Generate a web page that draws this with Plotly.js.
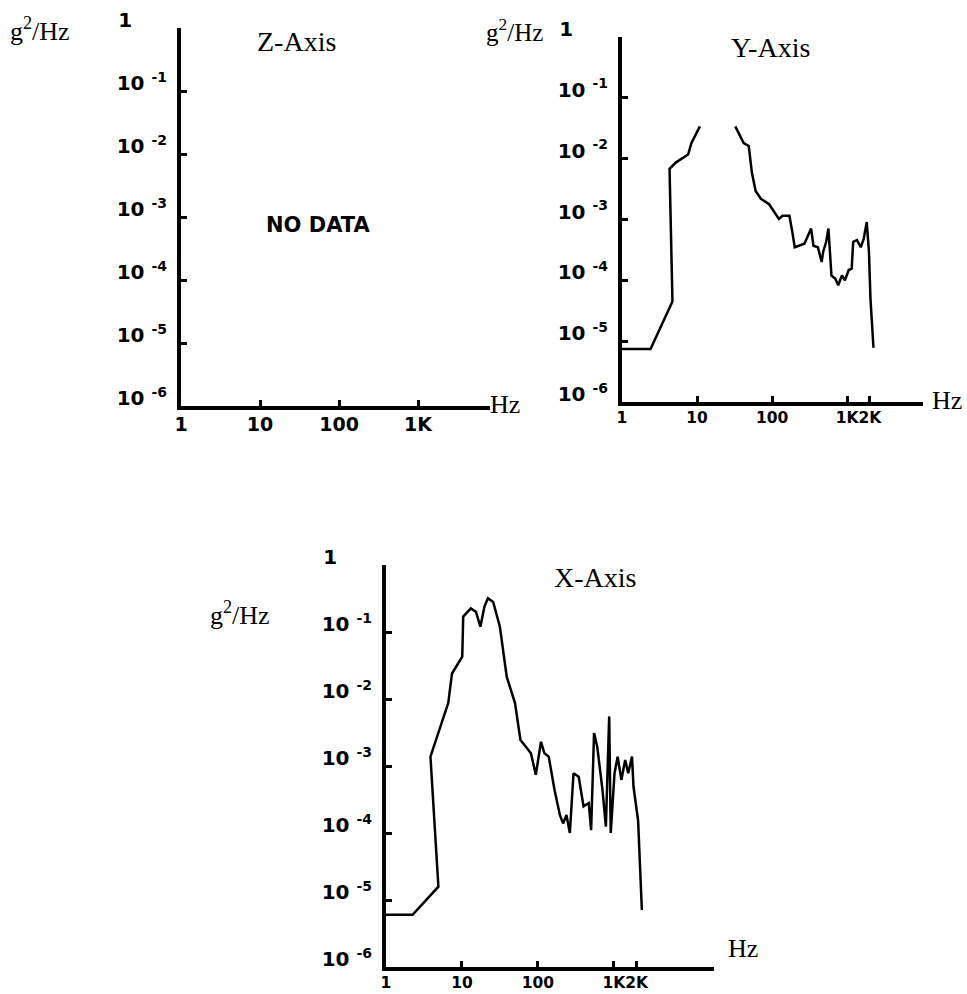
<!DOCTYPE html>
<html><head><meta charset="utf-8">
<script src="https://cdn.plot.ly/plotly-3.0.1.min.js"></script>
<style>html,body{margin:0;padding:0;background:#fff}#chart{width:967px;height:994px}</style>
</head><body><div id="chart"></div>
<script>
// Tick values and labels
const psdTickVals = [1, 0.1, 0.01, 0.001, 0.0001, 0.00001, 0.000001];
const NB = '\u00a0';
const psdTickText = ['1' + NB.repeat(5), '10 <sup>-1</sup>', '10 <sup>-2</sup>', '10 <sup>-3</sup>', '10 <sup>-4</sup>', '10 <sup>-5</sup>', '10 <sup>-6</sup>'];
const freqTickValsZ = [1, 10, 100, 1000];
const freqTickTextZ = ['1', '10', '100', '1K'];
const freqTickVals = [1, 10, 100, 1000, 2000];
const freqTickText = ['1', '10', '100', '1K', '2K'];

// Y-Axis PSD (peak region missing in the original scan)
const yAxisFreq = [1.0, 2.4, 4.7, 4.3, 5.25, 7.6, 8.4, 10.9, 20, 32.3, 41.8, 48.8, 53.7, 60.3, 70.8, 91.2, 107, 123, 138, 170, 186, 200, 269, 288, 331, 355, 407, 457, 479, 525, 562, 589, 617, 692, 759, 851, 933, 1047, 1148, 1202, 1349, 1514, 1660, 1820, 1905, 1950, 2042, 2239];
const yAxisPsd = [7.4e-6, 7.4e-6, 4.5e-5, 6.8e-3, 8.7e-3, 0.0117, 0.018, 0.034, null, 0.034, 0.018, 0.0162, 5.9e-3, 2.95e-3, 2.19e-3, 1.78e-3, 1.32e-3, 1.02e-3, 1.15e-3, 1.15e-3, 6.2e-4, 3.5e-4, 4.0e-4, 4.8e-4, 7.1e-4, 3.7e-4, 3.5e-4, 2.0e-4, 2.95e-4, 4.3e-4, 7.1e-4, 2.95e-4, 1.2e-4, 1.07e-4, 8.3e-5, 1.2e-4, 1.0e-4, 1.48e-4, 1.55e-4, 4.3e-4, 4.6e-4, 3.5e-4, 4.8e-4, 9.1e-4, 3.3e-4, 2.95e-4, 5.0e-5, 7.8e-6];

// X-Axis PSD
const xAxisFreq = [1.0, 2.24, 4.9, 3.85, 6.6, 7.4, 10.1, 10.4, 13.1, 15.3, 17.5, 19.8, 22, 25.8, 31.6, 38.9, 50, 59, 69, 81, 94, 110, 122, 139, 166, 195, 215, 238, 264, 295, 345, 400, 468, 503, 550, 605, 710, 787, 870, 912, 1023, 1125, 1259, 1413, 1549, 1738, 1820, 2090, 2344];
const xAxisPsd = [6.0e-6, 6.0e-6, 1.58e-5, 1.38e-3, 8.7e-3, 0.024, 0.043, 0.17, 0.225, 0.20, 0.12, 0.24, 0.32, 0.28, 0.12, 0.0215, 8.7e-3, 2.45e-3, 1.95e-3, 1.55e-3, 7.4e-4, 2.3e-3, 1.55e-3, 1.38e-3, 4.4e-4, 1.86e-4, 1.39e-4, 1.86e-4, 1.0e-4, 7.8e-4, 6.9e-4, 2.5e-4, 2.8e-4, 1.1e-4, 3.1e-3, 1.95e-3, 4.4e-4, 1.24e-4, 5.5e-3, 1.0e-4, 7.8e-4, 1.38e-3, 6.2e-4, 1.23e-3, 7.8e-4, 1.38e-3, 4.9e-4, 1.55e-4, 7.1e-6];

const W = 967, H = 994;
const px = v => v / W;
const py = v => 1 - v / H;

const tickFontZ = {family: 'DejaVu Sans', size: 19, weight: 'bold', color: '#000'};
const tickFontX = {family: 'DejaVu Sans', size: 15.5, weight: 'bold', color: '#000'};
const tickFontY = {family: 'DejaVu Sans', size: 20, weight: 'bold', color: '#000'};

function xAx(domain, range, vals, text, yanchor, font) {
  return {type: 'log', domain: domain, range: range, anchor: yanchor, showgrid: false, zeroline: false,
    showline: true, linecolor: '#000', linewidth: 4, ticks: 'inside', ticklen: 6, tickwidth: 3,
    tickcolor: '#000', tickmode: 'array', tickvals: vals, ticktext: text, tickfont: font,
    ticklabelstandoff: -2, tickangle: 0, fixedrange: true};
}
function yAx(domain, xanchor) {
  return {type: 'log', domain: domain, range: [-6, 0], anchor: xanchor, showgrid: false, zeroline: false,
    showline: true, linecolor: '#000', linewidth: 4, ticks: 'inside', ticklen: 6, tickwidth: 3,
    tickcolor: '#000', tickmode: 'array', tickvals: psdTickVals, ticktext: psdTickText,
    tickfont: tickFontY, ticklabelshift: -8, ticklabelstandoff: 6, tickangle: 0, fixedrange: true};
}

const data = [
  {x: [], y: [], xaxis: 'x', yaxis: 'y', type: 'scatter', mode: 'lines', hoverinfo: 'skip'},
  {x: yAxisFreq, y: yAxisPsd, xaxis: 'x2', yaxis: 'y2', type: 'scatter', mode: 'lines',
   connectgaps: false, line: {color: '#000', width: 2.5}},
  {x: xAxisFreq, y: xAxisPsd, xaxis: 'x3', yaxis: 'y3', type: 'scatter', mode: 'lines',
   line: {color: '#000', width: 2.5}}
];

const serif = {family: 'Liberation Serif', color: '#000'};
function ann(text, x, y, size, xanchor, extra) {
  return Object.assign({text: text, x: px(x), y: py(y), xref: 'paper', yref: 'paper',
    showarrow: false, xanchor: xanchor || 'center', yanchor: 'middle',
    font: Object.assign({}, serif, {size: size})}, extra || {});
}

const layout = {
  width: W, height: H, margin: {l: 0, r: 0, t: 0, b: 0},
  paper_bgcolor: '#fff', plot_bgcolor: 'rgba(0,0,0,0)', showlegend: false,
  xaxis: xAx([px(181), px(490)], [0, 3.91], freqTickValsZ, freqTickTextZ, 'y', tickFontZ),
  yaxis: yAx([py(406), py(28)], 'x'),
  xaxis2: xAx([px(622), px(923)], [0, 4.01], freqTickVals, freqTickText, 'y2', tickFontX),
  yaxis2: yAx([py(402), py(37)], 'x2'),
  xaxis3: xAx([px(386), px(714)], [0, 4.32], freqTickVals, freqTickText, 'y3', tickFontX),
  yaxis3: yAx([py(967), py(565)], 'x3'),
  annotations: [
    ann('g<sup>2</sup>/Hz', 8, 30, 26, 'left'),
    ann('Z-Axis', 296, 42, 28),
    ann('NO DATA', 318, 225, 21, 'center', {font: {family: 'DejaVu Sans', size: 21, weight: 'bold', color: '#000'}}),
    ann('Hz', 488, 404, 26, 'left'),
    ann('g<sup>2</sup>/Hz', 484, 30, 25, 'left'),
    ann('Y-Axis', 770, 48, 28),
    ann('Hz', 930, 400, 26, 'left'),
    ann('X-Axis', 595, 577, 28),
    ann('g<sup>2</sup>/Hz', 208, 613, 26, 'left'),
    ann('Hz', 726, 948, 26, 'left')
  ]
};

Plotly.newPlot('chart', data, layout, {displayModeBar: false, staticPlot: true});
</script>
</body></html>
